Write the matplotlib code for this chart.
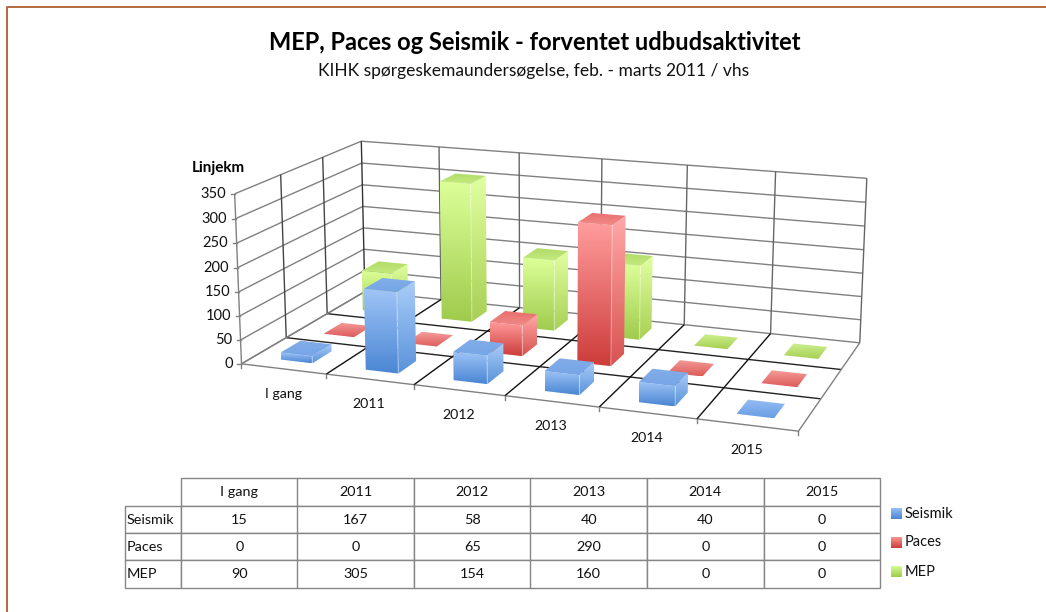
import numpy as np
import matplotlib
matplotlib.use('Agg')
import matplotlib.pyplot as plt
from matplotlib.colors import LinearSegmentedColormap
from matplotlib.patches import Polygon

categories = ['I gang', '2011', '2012', '2013', '2014', '2015']
series_names = ['Seismik', 'Paces', 'MEP']
seismik = [15, 167, 58, 40, 40, 0]
paces = [0, 0, 65, 290, 0, 0]
mep = [90, 305, 154, 160, 0, 0]
yticks = [0, 50, 100, 150, 200, 250, 300, 350]

plt.rcParams['font.family'] = ['Lato', 'DejaVu Sans']

# front face top/bottom, side top/bottom, roof back/front
colors = {
    'Seismik': ['#9fc4f7', '#4a86d3', '#a9ccf8', '#5a93da', '#82ade8', '#76a5e6'],
    'Paces': ['#ff9c9c', '#cd3d3b', '#ffa8a8', '#d85350', '#e86e6c', '#f08a88'],
    'MEP': ['#dcff98', '#9fcb4d', '#e0ff9f', '#a8d055', '#b2dc68', '#c4ea80'],
}
# bars with value 0 only show a flat roof, light at the back
flat_colors = {
    'Seismik': ['#95bcf4', '#6a9de3'],
    'Paces': ['#f59c9a', '#dc5c5a'],
    'MEP': ['#cdef90', '#a6d050'],
}

# camera: (cat, series, value) -> pixel, fitted from the corners of the box
box3d = np.array([[0, 0, 0], [6, 0, 0], [6, 3, 0], [0, 3, 0],
                  [0, 0, 350], [6, 3, 350], [0, 3, 350]], float)
box2d = np.array([[242.3, 364.5], [798.3, 431], [860, 343], [364, 291],
                  [234, 193.3], [866.7, 178.3], [362, 141.7]], float)


def fit_camera(p3, p2):
    rows = []
    for (x, y, z), (u, v) in zip(p3, p2):
        rows.append([x, y, z, 1, 0, 0, 0, 0, -u * x, -u * y, -u * z, -u])
        rows.append([0, 0, 0, 0, x, y, z, 1, -v * x, -v * y, -v * z, -v])
    return np.linalg.svd(np.array(rows))[2][-1].reshape(3, 4)


cam = fit_camera(box3d, box2d)


def proj(x, y, z):
    p = cam @ np.array([x, y, z, 1.0])
    return p[0] / p[2], p[1] / p[2]


fig = plt.figure(figsize=(10.46, 6.12), dpi=100)
ax = fig.add_axes([0, 0, 1, 1])
ax.set_axis_off()

# frame: only the top and left edges are inside the picture
ax.plot([7, 7, 1046], [612, 6.5, 6.5], color='#b4683f', lw=1.4, zorder=1)


def line3d(a, b, color='#808080', lw=1.0):
    pa, pb = proj(*a), proj(*b)
    ax.plot([pa[0], pb[0]], [pa[1], pb[1]], color=color, lw=lw, zorder=1,
            solid_capstyle='butt')


# walls and floor
for v in yticks:
    line3d((0, 0, v), (0, 3, v))
    line3d((0, 3, v), (6, 3, v))
for i in range(1, 7):
    line3d((i, 3, 0), (i, 3, 350), '#666666')
line3d((0, 3, 0), (0, 3, 350), '#333333')
for j in (1, 2):
    line3d((0, j, 0), (0, j, 350), '#444444')
    line3d((0, j, 0), (6, j, 0), '#222222')
line3d((0, 0, 0), (0, 0, 350))
line3d((0, 0, 0), (6, 0, 0))
line3d((6, 0, 0), (6, 3, 0))
for i in range(1, 6):
    line3d((i, 0, 0), (i, 3, 0), '#111111')
line3d((0, 0, 0), (0, 3, 0), '#808080')

# ticks and axis labels
for v in yticks:
    px, py = proj(0, 0, v)
    ax.plot([px - 4, px], [py, py], color='#808080', lw=1, zorder=1)
    ax.text(px - 8.5, py, str(v), ha='right', va='center', fontsize=10.5, color='#111111')
for i in range(0, 7):
    px, py = proj(i, 0, 0)
    ax.plot([px, px], [py, py + 4], color='#808080', lw=1, zorder=1)
for i, name in enumerate(categories):
    px, py = proj(i + 0.5, 0, 0)
    ax.text(px - 0.5, py + 25, name, ha='center', va='center', fontsize=10.2, color='#111111')
ax.text(218, 168, 'Linjekm', ha='center', va='center', fontsize=11, fontweight='bold')


def grad_poly(poly, c1, c2, z):
    poly = np.array(poly)
    cmap = LinearSegmentedColormap.from_list('g', [c1, c2])
    x0, y0 = poly.min(axis=0)
    x1, y1 = poly.max(axis=0)
    im = ax.imshow(np.linspace(0, 1, 64).reshape(-1, 1), cmap=cmap, aspect='auto',
                   extent=[x0, x1, y1, y0], zorder=z, interpolation='bilinear')
    im.set_clip_path(Polygon(poly, transform=ax.transData))


bar_w = 0.375
bar_d = 0.45
shift = 0.01
z = 2
all_values = [seismik, paces, mep]
for j in (2, 1, 0):
    name = series_names[j]
    c = colors[name]
    for i, val in enumerate(all_values[j]):
        x0 = i + (1 - bar_w) / 2 + shift
        x1 = x0 + bar_w
        y0 = j + (1 - bar_d) / 2
        y1 = y0 + bar_d
        front = [proj(x0, y0, 0), proj(x1, y0, 0), proj(x1, y0, val), proj(x0, y0, val)]
        side = [proj(x1, y0, 0), proj(x1, y1, 0), proj(x1, y1, val), proj(x1, y0, val)]
        roof = [proj(x0, y0, val), proj(x1, y0, val), proj(x1, y1, val), proj(x0, y1, val)]
        if val > 0:
            grad_poly(side, c[2], c[3], z)
            grad_poly(front, c[0], c[1], z + 1)
            ax.plot([front[1][0], front[2][0]], [front[1][1], front[2][1]],
                    color='white', alpha=0.35, lw=0.8, zorder=z + 2)
            grad_poly(roof, c[4], c[5], z + 2)
        else:
            grad_poly(roof, flat_colors[name][0], flat_colors[name][1], z + 2)
        z += 3

ax.text(534.5, 43, 'MEP, Paces og Seismik - forventet udbudsaktivitet',
        ha='center', va='center', fontsize=17, fontweight='bold', color='black')
ax.text(534, 71, 'KIHK spørgeskemaundersøgelse, feb. - marts 2011 / vhs',
        ha='center', va='center', fontsize=12.5, color='#111111')

# data table, bbox only covers the value columns
col_w = (880 - 181) / 6
tb = ax.table(cellText=[[str(v) for v in s] for s in all_values],
              colLabels=categories, colWidths=[col_w / 1046] * 6, cellLoc='center',
              bbox=[181 / 1046, 1 - 587.5 / 612, (880 - 181) / 1046, (587.5 - 478) / 612],
              zorder=30)
for j, name in enumerate(series_names):
    tb.add_cell(j + 1, -1, width=55.5 / 1046, height=27 / 612, text=name, loc='left')
tb.auto_set_font_size(False)
tb.set_fontsize(10.4)
for (r, cl), cell in tb.get_celld().items():
    cell.set_edgecolor('#868686')
    cell.set_linewidth(1.0)
    cell.set_height((28.4 if r == 0 else 27) / 612)
    if cl == -1:
        cell.PAD = 0.02
    cell.get_text().set_color('#111111')

# legend
for j, name in enumerate(series_names):
    top = 508 + j * 29
    c = colors[name]
    grad_poly([(891, top), (902, top), (902, top + 11.5), (891, top + 11.5)], c[0], c[1], 40)
    ax.text(905, top + 5.5, name, ha='left', va='center', fontsize=10.5, color='#111111')

ax.set_xlim(0, 1046)
ax.set_ylim(612, 0)
fig.savefig('out.png', dpi=100, facecolor='white')
